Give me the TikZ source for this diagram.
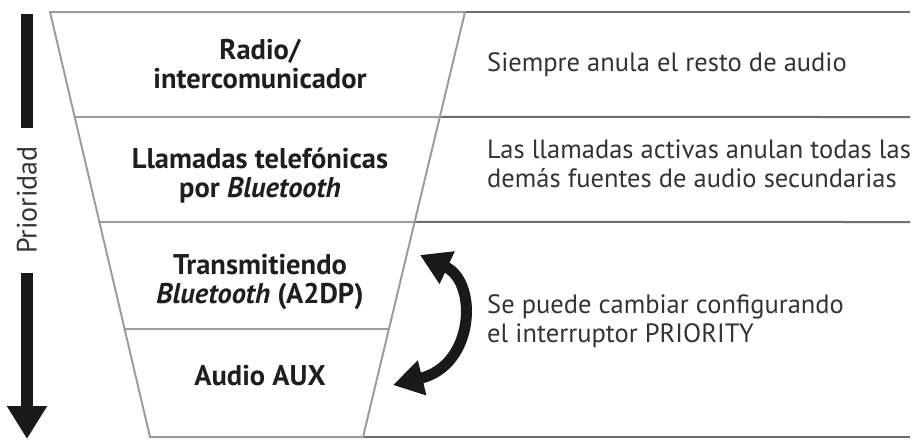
\documentclass[tikz,border=0pt]{standalone}
\usepackage{fontspec}
\setmainfont{PT Sans}
\usetikzlibrary{arrows.meta,calc}
\definecolor{funnelgray}{HTML}{9C9C9C}
\definecolor{rulegray}{HTML}{6E6E6E}
\definecolor{txtdark}{HTML}{1E1E1E}
\definecolor{txtgray}{HTML}{333333}
\begin{document}
\begin{tikzpicture}[x=1pt,y=-1pt,
  funnel/.style={draw=funnelgray,line width=2pt,line join=miter},
  rowline/.style={draw=funnelgray,line width=2pt},
  rightline/.style={draw=rulegray,line width=2pt},
  level/.style={font=\bfseries\fontsize{28.5}{28.5}\selectfont,text=txtdark,align=center,inner sep=0pt,anchor=base},
  note/.style={font=\fontsize{26.5}{28.5}\selectfont,text=txtgray,align=left,inner sep=0pt,anchor=base west},
  prio/.style={line width=12pt,draw=black!90},
]
\useasboundingbox (0,0) rectangle (921,440);
% funnel corners
\coordinate (tl) at (50,12);
\coordinate (tr) at (465,12);
\coordinate (br) at (363,437);
\coordinate (bl) at (150,437);
\coordinate (l1) at ($(tl)!0.247!(bl)$);
\coordinate (r1) at ($(tr)!0.247!(br)$);
\coordinate (l2) at ($(tl)!0.494!(bl)$);
\coordinate (r2) at ($(tr)!0.494!(br)$);
\coordinate (l3) at ($(tl)!0.746!(bl)$);
\coordinate (r3) at ($(tr)!0.746!(br)$);
\coordinate (e0) at (910,12);
\coordinate (e1) at (910,117);
\coordinate (e2) at (910,222);
\coordinate (e4) at (910,437);
% right rules
\draw[rightline] (tr) -- (e0);
\draw[rightline] (r1) -- (e1);
\draw[rightline] (r2) -- (e2);
\draw[rightline] (br) -- (e4);
% funnel
\draw[funnel] (tl) -- (tr) -- (br) -- (bl) -- cycle;
\draw[rowline] (l1) -- (r1);
\draw[rowline] (l2) -- (r2);
\draw[rowline] (l3) -- (r3);
% level labels (base = baseline of last line)
\node[level] (radio) at (260,88) {Radio/\\intercomunicador};
\node[level] (calls) at (260,197) {Llamadas telefónicas\\por \textit{Bluetooth}};
\node[level] (a2dp) at (260,303) {Transmitiendo\\\textit{Bluetooth} (A2DP)};
\node[level] (aux) at (260,385) {Audio AUX};
% notes (base = baseline of last line)
\node[note] (n1) at (487,71) {Siempre anula el resto de audio};
\node[note] (n2) at (487,187) {Las llamadas activas anulan todas las\\demás fuentes de audio secundarias};
\node[note] (n3) at (487,342) {Se puede cambiar configurando\\el interruptor PRIORITY};
% priority arrow
\coordinate (p0) at (27,14);
\coordinate (p1) at (27,128);
\coordinate (p2) at (27,273);
\coordinate (p3) at (27,439);
\draw[prio] (p0) -- (p1);
\node[font=\fontsize{28}{30}\selectfont,text=txtgray,rotate=90,inner sep=0pt] (prtxt) at (27,200) {Prioridad};
\draw[prio,-{Triangle[width=38pt,length=33pt]}] (p2) -- (p3);
% swap arrow
\coordinate (s0) at (420,255);
\coordinate (s1) at (393,385);
\draw[line width=11pt,draw=black!90,{Triangle[width=34pt,length=30pt]}-{Triangle[width=34pt,length=30pt]}]
  (s0) .. controls (478,282) and (475,365) .. (s1);
\end{tikzpicture}
\end{document}
